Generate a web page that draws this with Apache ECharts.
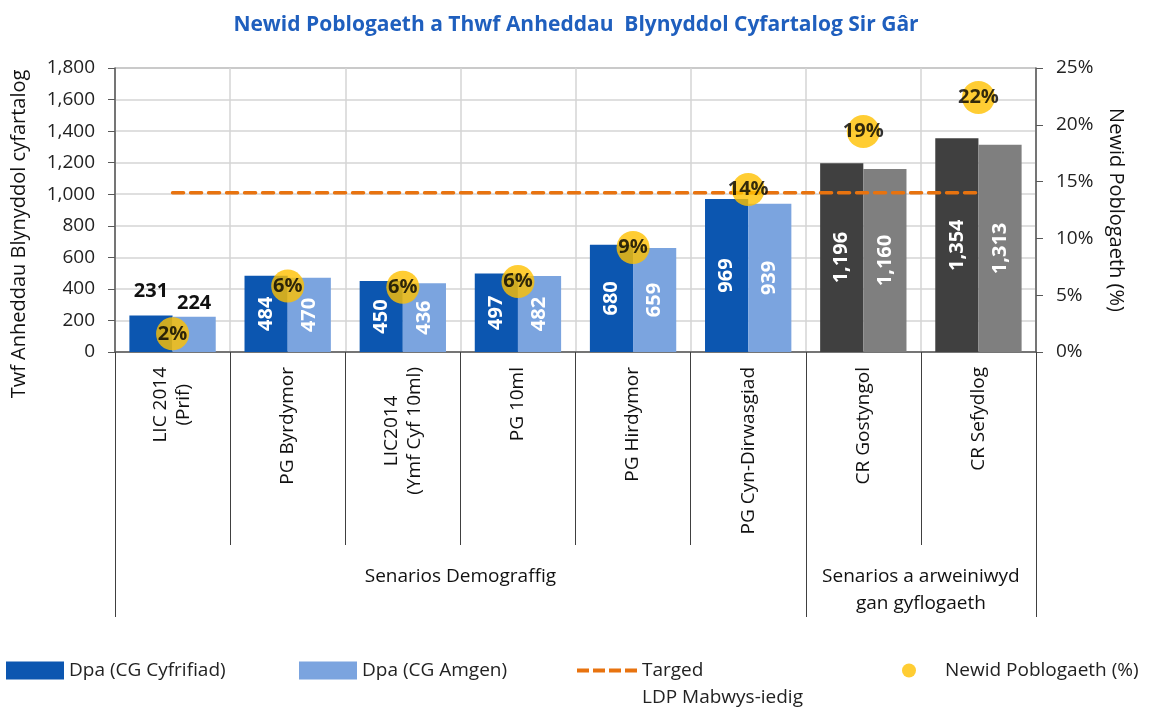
<!DOCTYPE html>
<html>
<head>
<meta charset="utf-8">
<title>Newid Poblogaeth a Thwf Anheddau</title>
<script src="https://cdn.jsdelivr.net/npm/echarts@6/dist/echarts.min.js"></script>
<style>
  html, body { margin: 0; padding: 0; background: #fff; }
  #chart { width: 1152px; height: 708px; }
</style>
</head>
<body>
<div id="chart"></div>
<script>
// categories (bottom level) and groups (second level)
const categories = ['LIC 2014\n(Prif)', 'PG Byrdymor', 'LIC2014\n(Ymf Cyf 10ml)', 'PG 10ml', 'PG Hirdymor', 'PG Cyn-Dirwasgiad', 'CR Gostyngol', 'CR Sefydlog']
const groupNames = ['Senarios Demograffig', 'Senarios a arweiniwyd\ngan gyflogaeth']
const groupBounds = [0, 6, 8]
const groupCenters = [3, 7]

const dpaCyfrifiad = [231, 484, 450, 497, 680, 969, 1196, 1354]
const dpaAmgen = [224, 470, 436, 482, 659, 939, 1160, 1313]
const popChange = [1.6, 5.8, 5.7, 6.2, 9.2, 14.3, 19.4, 22.4]
const target = [1010, 1010, 1010, 1010, 1010, 1010, 1010, 1010]

const leftTicks = [0, 1800, 200]
const rightTicks = [0, 25, 5]

const FONT = 'Open Sans'
const fmt = (v) => v.toLocaleString('en-US')

const chart = echarts.init(document.getElementById('chart'))

// the two scenario groups use different colours for the bars
const isEmployment = (i) => i >= groupBounds[1]

const barData = (values, blue, grey, topDist) =>
  values.map((v, i) => {
    const item = { value: v, itemStyle: { color: isEmployment(i) ? grey : blue } }
    if (i === 0) {
      item.label = { position: 'top', rotate: 0, color: '#111', distance: topDist, align: 'center', verticalAlign: 'bottom' }
    }
    return item
  })

const barLabel = {
  show: true,
  position: 'inside',
  rotate: 90,
  color: '#fff',
  fontFamily: FONT,
  fontWeight: 'bold',
  fontSize: 20,
  formatter: (p) => fmt(p.value),
}

const legendText = { fontFamily: FONT, fontSize: 19, color: '#222' }

chart.setOption({
  animation: false,
  backgroundColor: '#fff',
  title: {
    text: 'Newid Poblogaeth a Thwf Anheddau  Blynyddol Cyfartalog Sir Gâr',
    left: 'center',
    top: 10,
    textStyle: { fontFamily: FONT, fontSize: 21, fontWeight: 'bold', color: '#1f5fbe' },
  },
  grid: {
    left: 115,
    right: 116,
    top: 68,
    bottom: 356,
    show: true,
    borderColor: '#595959',
    borderWidth: 1,
  },
  legend: [
    {
      data: ['Dpa (CG Cyfrifiad)'],
      left: 6, top: 661, padding: 0,
      icon: 'rect', itemWidth: 58, itemHeight: 18,
      textStyle: legendText,
    },
    {
      data: ['Dpa (CG Amgen)'],
      left: 299, top: 661, padding: 0,
      icon: 'rect', itemWidth: 58, itemHeight: 18,
      textStyle: legendText,
    },
    {
      data: ['Targed\nLDP Mabwys-iedig'],
      left: 577, top: 630, padding: 0,
      icon: 'path://M0,0h12v4h-12z M16,0h12v4h-12z M32,0h12v4h-12z M48,0h12v4h-12z',
      itemWidth: 60, itemHeight: 4,
      formatter: (name) => ' \n' + name,
      textStyle: { ...legendText, lineHeight: 27 },
    },
    {
      data: ['Newid Poblogaeth (%)'],
      left: 902, top: 661, padding: 0,
      icon: 'circle', itemWidth: 14, itemHeight: 18,
      textStyle: { ...legendText, padding: [0, 0, 0, 24] },
    },
  ],
  xAxis: [
    {
      type: 'category',
      data: categories,
      axisLine: { lineStyle: { color: '#595959', width: 1.5 } },
      axisTick: { show: true, interval: 0, length: 193, lineStyle: { color: '#404040' } },
      splitLine: { show: true, interval: 0, lineStyle: { color: '#d4d4d4', width: 1.5 } },
      axisLabel: {
        interval: 0,
        rotate: 90,
        margin: 15,
        fontFamily: FONT,
        fontSize: 19,
        lineHeight: 23,
        color: '#111',
        // centre each line of a two-line label
        formatter: (v) => v.split('\n').map((l) => '{c|' + l + '}').join('\n'),
        rich: {
          c: { align: 'center', fontFamily: FONT, fontSize: 19, lineHeight: 23, color: '#111' },
        },
      },
    },
    {
      type: 'value',
      min: groupBounds[0],
      max: groupBounds[groupBounds.length - 1],
      position: 'bottom',
      axisLine: { show: false },
      splitLine: { show: false },
      axisTick: { show: true, customValues: groupBounds, length: 265, lineStyle: { color: '#404040' } },
      axisLabel: {
        customValues: groupCenters,
        margin: 211,
        verticalAlign: 'top',
        fontFamily: FONT,
        fontSize: 19,
        lineHeight: 27,
        color: '#111',
        formatter: (v) => groupNames[groupCenters.indexOf(v)],
      },
    },
  ],
  yAxis: [
    {
      type: 'value',
      min: leftTicks[0], max: leftTicks[1], interval: leftTicks[2],
      name: 'Twf Anheddau Blynyddol cyfartalog',
      nameLocation: 'middle',
      nameGap: 86,
      nameTextStyle: { fontFamily: FONT, fontSize: 20, color: '#111', padding: [0, 0, 0, -48] },
      axisLine: { show: true, lineStyle: { color: '#595959', width: 1.5 } },
      axisTick: { show: true, length: 7, lineStyle: { color: '#595959' } },
      splitLine: { show: true, lineStyle: { color: '#d4d4d4', width: 1.5 } },
      axisLabel: { fontFamily: FONT, fontSize: 19, color: '#222', margin: 20, formatter: fmt },
    },
    {
      type: 'value',
      min: rightTicks[0], max: rightTicks[1], interval: rightTicks[2],
      position: 'right',
      name: 'Newid Poblogaeth (%)',
      nameLocation: 'middle',
      nameRotate: -90,
      nameGap: 70,
      nameTextStyle: { fontFamily: FONT, fontSize: 20, color: '#111' },
      axisLine: { show: true, lineStyle: { color: '#595959', width: 1.5 } },
      axisTick: { show: true, length: 7, lineStyle: { color: '#595959' } },
      splitLine: { show: false },
      axisLabel: { fontFamily: FONT, fontSize: 19, color: '#222', margin: 20, formatter: '{value}%' },
    },
  ],
  series: [
    {
      name: 'Dpa (CG Cyfrifiad)',
      type: 'bar',
      barGap: 0,
      barCategoryGap: '25%',
      itemStyle: { color: '#0c56b0' },
      label: barLabel,
      data: barData(dpaCyfrifiad, '#0c56b0', '#404040', 14),
      z: 2,
    },
    {
      name: 'Dpa (CG Amgen)',
      type: 'bar',
      itemStyle: { color: '#7ba4df' },
      label: barLabel,
      data: barData(dpaAmgen, '#7ba4df', '#7f7f7f', 3),
      z: 2,
    },
    {
      name: 'Targed\nLDP Mabwys-iedig',
      type: 'line',
      data: target,
      symbol: 'none',
      lineStyle: { color: '#e8730f', width: 3.5, type: [11, 7], cap: 'round' },
      itemStyle: { color: '#e8730f' },
      z: 3,
    },
    {
      name: 'Newid Poblogaeth (%)',
      type: 'scatter',
      yAxisIndex: 1,
      data: popChange,
      symbolSize: 33,
      itemStyle: { color: '#ffc000' },
      label: {
        show: true,
        position: 'inside',
        color: '#000',
        fontFamily: FONT,
        fontWeight: 'bold',
        fontSize: 20,
        formatter: (p) => Math.round(p.value) + '%',
      },
      z: 4,
    },
  ],
})
</script>
</body>
</html>
